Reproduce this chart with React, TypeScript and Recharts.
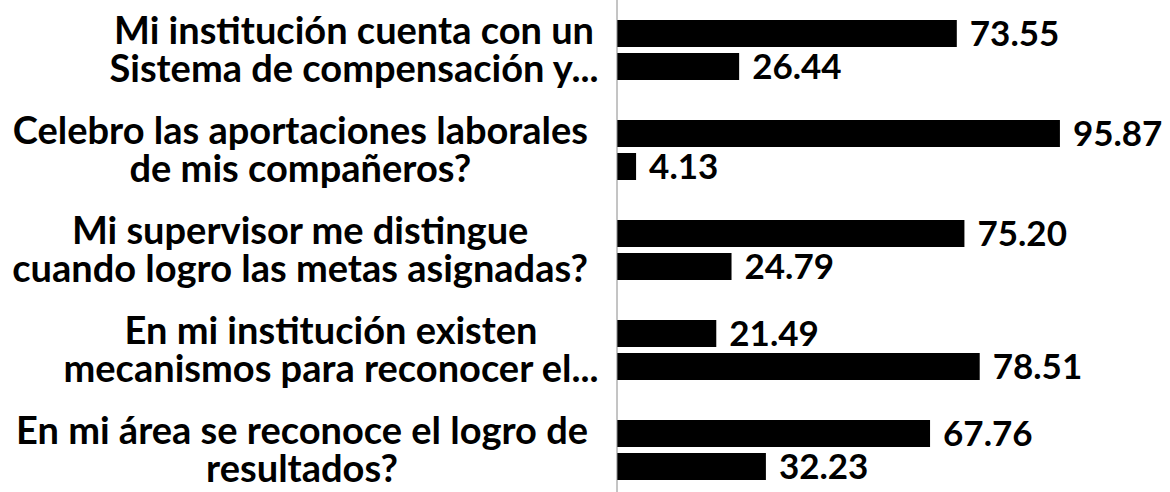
import { BarChart, Bar, XAxis, YAxis, LabelList } from "recharts";

// category labels, already wrapped the way the reference shows them
const categoryLines = [
  ["Mi institución cuenta con un", "Sistema de compensación y..."],
  ["Celebro las aportaciones laborales", "de mis compañeros?"],
  ["Mi supervisor me distingue", "cuando logro las metas asignadas?"],
  ["En mi institución existen", "mecanismos para reconocer el..."],
  ["En mi área se reconoce el logro de", "resultados?"],
];
const topSeries = [73.55, 95.87, 75.2, 21.49, 67.76];
const bottomSeries = [26.44, 4.13, 24.79, 78.51, 32.23];

const data = categoryLines.map((lines, i) => ({
  name: lines.join(" "),
  a: topSeries[i],
  b: bottomSeries[i],
}));

const FONT = "Lato, 'Open Sans', sans-serif";
const LABEL_SIZE = 38;

// measure text so each wrapped label block can be right-aligned like Excel does
let ctx: CanvasRenderingContext2D | null = null;
const textWidth = (s: string) => {
  if (!ctx) ctx = document.createElement("canvas").getContext("2d");
  if (!ctx) return s.length * LABEL_SIZE * 0.5;
  ctx.font = `700 ${LABEL_SIZE}px Lato`;
  return ctx.measureText(s).width;
};

const CategoryTick = (props: any) => {
  const { y, payload } = props;
  const lines = categoryLines[payload.index] || [payload.value];
  const truncated = lines.some((l) => l.endsWith("..."));
  const right = truncated ? 599 : 588;
  const maxW = Math.max(...lines.map(textWidth));
  const cx = right - maxW / 2;
  return (
    <g>
      {lines.map((line, i) => (
        <text
          key={i}
          x={cx}
          y={y - 2 + (i - (lines.length - 1) / 2) * 38}
          textAnchor="middle"
          dominantBaseline="central"
          fontFamily={FONT}
          fontWeight={700}
          fontSize={LABEL_SIZE}
          fill="#000"
        >
          {line}
        </text>
      ))}
    </g>
  );
};

const fmt = (v: any) => Number(v).toFixed(2);
const valueStyle = { fontFamily: FONT, fontWeight: 700, fontSize: 35, fill: "#000" };

export default function App() {
  return (
    <div
      style={{
        position: "absolute",
        left: 0,
        top: 0,
        width: 1170,
        height: 492,
        overflow: "hidden",
        background: "#fff",
      }}
    >
      <BarChart
        width={1170}
        height={500}
        data={data}
        layout="vertical"
        margin={{ top: 0, right: 91, bottom: 0, left: 0 }}
        barCategoryGap="20%"
        barGap={6}
      >
        <XAxis type="number" domain={[0, 100]} hide />
        <YAxis
          type="category"
          dataKey="name"
          width={617}
          tickLine={false}
          axisLine={{ stroke: "#8a8a8a", strokeWidth: 1 }}
          tick={<CategoryTick />}
          interval={0}
        />
        <Bar dataKey="a" fill="#000" barSize={27} isAnimationActive={false}>
          <LabelList dataKey="a" position="right" offset={13} formatter={fmt} style={valueStyle} />
        </Bar>
        <Bar dataKey="b" fill="#000" barSize={27} isAnimationActive={false}>
          <LabelList dataKey="b" position="right" offset={13} formatter={fmt} style={valueStyle} />
        </Bar>
      </BarChart>
    </div>
  );
}
